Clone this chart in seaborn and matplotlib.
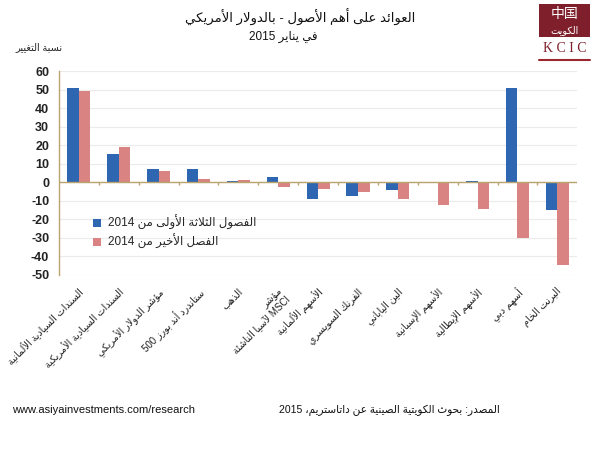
import re
import pandas as pd
import matplotlib
matplotlib.use('Agg')
import matplotlib.pyplot as plt
import matplotlib.transforms as mtransforms
from matplotlib.patches import Rectangle
import seaborn as sns

# --- Data ---
categories = [
    'السندات السيادية الألمانية',
    'السندات السيادية الأمريكية',
    'مؤشر الدولار الأمريكي',
    'ستاندرد أند بورز 500',
    'الذهب',
    'مؤشر\nMSCI لآسيا الناشئة',
    'الأسهم الألمانية',
    'الفرنك السويسري',
    'الين الياباني',
    'الأسهم الإسبانية',
    'الأسهم الإيطالية',
    'أسهم دبي',
    'البرنت الخام',
]
first_three_q_2014 = [51.0, 15.5, 7.2, 7.2, 0.6, 2.8, -9.0, -7.5, -4.1, -0.5, 0.6, 50.7, -15.0]
last_q_2014 = [49.5, 18.8, 6.1, 1.8, 1.2, -2.3, -3.6, -5.5, -9.0, -12.0, -14.5, -30.3, -44.6]
series_names = ['الفصول الثلاثة الأولى من 2014', 'الفصل الأخير من 2014']
y_ticks = list(range(-50, 61, 10))

title_line1 = 'العوائد على أهم الأصول - بالدولار الأمريكي'
title_line2 = 'في يناير 2015'
y_label = 'نسبة التغيير'
source_txt = 'المصدر: بحوث الكويتية الصينية عن داتاستريم، 2015'
url_txt = 'www.asiyainvestments.com/research'

# --- Arabic shaping (matplotlib has no bidi/shaping) ---
DUAL = {'ئ': 0xFE89, 'ب': 0xFE8F, 'ت': 0xFE95, 'ث': 0xFE99, 'ج': 0xFE9D, 'ح': 0xFEA1,
        'خ': 0xFEA5, 'س': 0xFEB1, 'ش': 0xFEB5, 'ص': 0xFEB9, 'ض': 0xFEBD, 'ط': 0xFEC1,
        'ظ': 0xFEC5, 'ع': 0xFEC9, 'غ': 0xFECD, 'ف': 0xFED1, 'ق': 0xFED5, 'ك': 0xFED9,
        'ل': 0xFEDD, 'م': 0xFEE1, 'ن': 0xFEE5, 'ه': 0xFEE9, 'ي': 0xFEF1}
RIGHT = {'آ': 0xFE81, 'أ': 0xFE83, 'ؤ': 0xFE85, 'إ': 0xFE87, 'ا': 0xFE8D, 'ة': 0xFE93,
         'د': 0xFEA9, 'ذ': 0xFEAB, 'ر': 0xFEAD, 'ز': 0xFEAF, 'و': 0xFEED, 'ى': 0xFEEF}
LAM_ALEF = {'آ': 0xFEF5, 'أ': 0xFEF7, 'إ': 0xFEF9, 'ا': 0xFEFB}


def shape_line(s):
    out = []
    prev_joins = False
    i = 0
    while i < len(s):
        c = s[i]
        nxt = s[i + 1] if i + 1 < len(s) else ''
        if c == 'ل' and nxt in LAM_ALEF:
            out.append(chr(LAM_ALEF[nxt] + (1 if prev_joins else 0)))
            prev_joins = False
            i += 2
            continue
        if c in DUAL or c in RIGHT:
            base = DUAL.get(c, RIGHT.get(c))
            next_joins = c in DUAL and (nxt in DUAL or nxt in RIGHT)
            if prev_joins and next_joins:
                k = 3
            elif next_joins:
                k = 2
            elif prev_joins:
                k = 1
            else:
                k = 0
            out.append(chr(base + k))
            prev_joins = c in DUAL
        else:
            out.append(c)
            prev_joins = False
        i += 1
    vis = ''.join(out)[::-1]
    return re.sub(r'[A-Za-z0-9./]+', lambda m: m.group(0)[::-1], vis)


def ar(s):
    return '\n'.join(shape_line(line) for line in s.split('\n'))


# --- Long-form table ---
df = pd.DataFrame({
    'category': categories * 2,
    'value': first_three_q_2014 + last_q_2014,
    'series': [series_names[0]] * len(categories) + [series_names[1]] * len(categories),
})

sns.set_style('white')
plt.rcParams['font.family'] = ['Liberation Sans', 'DejaVu Sans']

blue = '#2e66b2'
pink = '#d98383'
axis_col = '#b8a46c'
maroon = '#7e1f2b'

fig = plt.figure(figsize=(6.07, 4.5), dpi=100)
ax = fig.add_axes([0.097, 0.389, 0.854, 0.453])

sns.barplot(data=df, x='category', y='value', hue='series', order=categories,
            hue_order=series_names, palette=[blue, pink], width=0.58,
            saturation=1, linewidth=0, ax=ax)

ax.set_ylim(-50, 60)
ax.set_xlim(-0.5, len(categories) - 0.5)
ax.set_yticks(y_ticks)
ax.set_yticklabels([str(t) for t in y_ticks], fontsize=9, fontweight='bold', color='#222222')
ax.yaxis.grid(True, color='#ebebeb', linewidth=0.8)
ax.set_axisbelow(True)
for side in ['top', 'right', 'bottom']:
    ax.spines[side].set_visible(False)
ax.spines['left'].set_color(axis_col)
ax.spines['left'].set_linewidth(1.0)
ax.tick_params(axis='y', length=4, color=axis_col, width=1, pad=3)
ax.tick_params(axis='x', length=0, pad=8)

# zero line with separators between categories
ax.axhline(0, color=axis_col, linewidth=1.0, zorder=3)
ax.vlines([i + 0.5 for i in range(len(categories) - 1)], -1.5, 0, color=axis_col, linewidth=1.0, zorder=3)

ax.set_xlabel('')
ax.set_ylabel('')
ax.set_xticks(range(len(categories)))
ax.set_xticklabels([ar(c) for c in categories], rotation=45, ha='right',
                   rotation_mode='anchor', fontsize=7.0, color='#222222',
                   multialignment='right')
offset = mtransforms.ScaledTranslation(-1 / 100, 0, fig.dpi_scale_trans)
for lbl in ax.get_xticklabels():
    lbl.set_transform(lbl.get_transform() + offset)

handles, _ = ax.get_legend_handles_labels()
ax.legend(handles, [ar(s) for s in series_names], frameon=False, loc='upper left',
          bbox_to_anchor=(0.045, 0.345), fontsize=8.5, handlelength=0.7,
          handleheight=0.7, handletextpad=0.6, labelspacing=0.35)

# titles and notes
fig.text(0.494, 0.962, ar(title_line1), ha='center', va='center', fontsize=9.5, color='#111111')
fig.text(0.411, 0.918, ar(title_line2), ha='left', va='center', fontsize=8.5, color='#111111')
fig.text(0.065, 0.895, ar(y_label), ha='center', va='center', fontsize=7, color='#222222')
fig.text(0.02, 0.088, url_txt, ha='left', va='center', fontsize=8, color='#111111')
fig.text(0.824, 0.088, ar(source_txt), ha='right', va='center', fontsize=7.6, color='#111111')

# KCIC logo
fig.patches.append(Rectangle((0.888, 0.918), 0.084, 0.073, transform=fig.transFigure,
                             facecolor=maroon, edgecolor='none'))
fig.text(0.930, 0.968, '中国', ha='center', va='center', fontsize=10,
         family=['Noto Sans CJK SC', 'DejaVu Sans'], color='white')
fig.text(0.930, 0.934, ar('الكويت'), ha='center', va='center', fontsize=7,
         family=['DejaVu Sans'], color='white')
fig.text(0.930, 0.893, 'K C I C', ha='center', va='center', fontsize=10,
         family=['Liberation Serif', 'DejaVu Serif'], color=maroon)
fig.lines.append(plt.Line2D([0.888, 0.972], [0.866, 0.866], transform=fig.transFigure,
                            color='#9b2630', linewidth=1.5))

fig.savefig('out.png', dpi=100, facecolor='white')
